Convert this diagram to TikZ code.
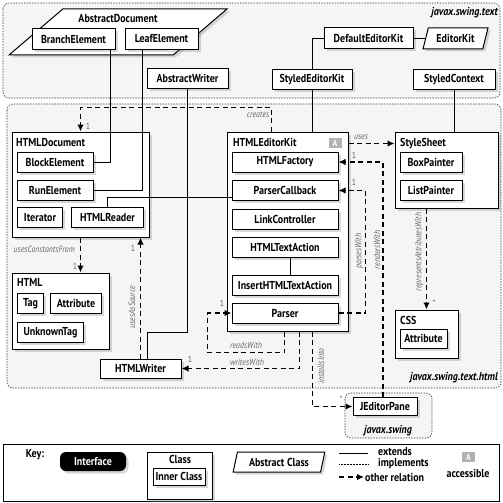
\documentclass[tikz,border=0pt]{standalone}
\usepackage{fontspec}
\setmainfont{PT Sans}[FakeStretch=0.87]
\usepackage{tikz}
\tikzset{
    cls/.style={rectangle,draw=black,fill=white,line width=1pt,drop shadow={opacity=0.3,shadow xshift=2.5pt,shadow yshift=-2.5pt},font=\bfseries,inner sep=0pt,minimum height=20pt,text centered},
    container/.style={cls},
    abstr/.style={trapezium,trapezium left angle=70,trapezium right angle=110,trapezium stretches=true,draw=black,fill=white,line width=1pt,drop shadow={opacity=0.3,shadow xshift=2.5pt,shadow yshift=-2.5pt},font=\bfseries,inner sep=0pt},
    iface/.style={rectangle,rounded corners=6pt,fill=black,text=white,font=\bfseries,inner sep=0pt,drop shadow={opacity=0.3,shadow xshift=2.5pt,shadow yshift=-2.5pt}},
    ttl/.style={anchor=north west,font=\bfseries,inner sep=0pt},
    pkg/.style={draw=black!75,fill=black!4,dash pattern=on 1.5pt off 1.2pt,line width=0.6pt,rounded corners=6pt},
    pkgname/.style={font=\bfseries\itshape,inner sep=0pt},
    ext/.style={draw=black,line width=0.8pt},
    impl/.style={draw=black,line width=0.8pt,dash pattern=on 0.7pt off 0.8pt},
    rel/.style={draw=black,line width=1.8pt,dash pattern=on 5pt off 3.5pt},
    lbl/.style={font=\itshape\fontsize{9}{10}\selectfont,text=black!60,inner sep=0.5pt},
    mult/.style={font=\fontsize{9}{10}\selectfont,text=black!60,inner sep=0.5pt},
    badge/.style={rectangle,fill=black!30,text=white,font=\bfseries\fontsize{9}{10}\selectfont,minimum width=13pt,minimum height=10pt,inner sep=0pt},
    keytext/.style={anchor=west,font=\bfseries,inner sep=0pt},
}
\usetikzlibrary{shapes.geometric,shadows,arrows.meta}
\usetikzlibrary{positioning}

\begin{document}
\fontsize{11.5}{13}\selectfont
\begin{tikzpicture}[x=1pt,y=-1pt,>={Latex[length=7pt,width=6.5pt]}]
\useasboundingbox (0,0) rectangle (503,503);
% packages
\draw[pkg] (3,3) rectangle (500,98);
\draw[pkg] (7,104) rectangle (501,388);
\draw[pkg] (345,393) rectangle (432,438);
\node[pkgname,anchor=east] (swingtext) at (498,13) {javax.swing.text};
\node[pkgname,anchor=east] (swinghtml) at (498,378) {javax.swing.text.html};
\node[pkgname] (swing) at (388,431) {javax.swing};

% javax.swing.text
\node[abstr,minimum width=218,minimum height=46] (AbstractDocument) at (118,32) {\phantom{A}};
\node[font=\bfseries,inner sep=0pt] (AbstractDocumentTtl) at (118,18) {AbstractDocument};
\node[cls,minimum width=83,minimum height=21] (BranchElement) at (73.5,39) {BranchElement};
\node[cls,minimum width=73,minimum height=21] (LeafElement) [right =9pt of BranchElement] {LeafElement};
\node[cls,minimum width=81] (AbstractWriter) at (187.5,78.5) {AbstractWriter};
\node[cls,minimum width=89,minimum height=21] (DefaultEditorKit) at (368.5,38.5) {DefaultEditorKit};
\node[abstr,trapezium left angle=66,trapezium right angle=114,minimum width=65,minimum height=21] (EditorKit) at (455.5,38.5) {EditorKit};
\node[cls,minimum width=80] (StyledEditorKit) at (312,79.5) {StyledEditorKit};
\node[cls,minimum width=82] (StyledContext) at (454,79.5) {StyledContext};

% javax.swing.text.html
\node[container,minimum width=137,minimum height=105] (HTMLDocument) at (80.5,184.5) {};
\node[ttl] (HTMLDocumentTtl) at (16,138) {HTMLDocument};
\node[cls,minimum width=76] (BlockElement) at (55,162) {BlockElement};
\node[cls,minimum width=76] (RunElement) [below =7pt of BlockElement] {RunElement};
\node[cls,minimum width=45,anchor=north west] (Iterator) at (17,207) {Iterator};
\node[cls,minimum width=72] (HTMLReader) [right =8pt of Iterator] {HTMLReader};

\node[container,minimum width=97,minimum height=76] (HTML) at (60.5,311) {};
\node[ttl] (HTMLTtl) at (17,278) {HTML};
\node[cls,minimum width=26,anchor=north west] (Tag) at (17,293) {Tag};
\node[cls,minimum width=51] (Attribute) [right =6pt of Tag] {Attribute};
\node[cls,minimum width=66,anchor=north west] (UnknownTag) at (17,322) {UnknownTag};

\node[container,minimum width=121,minimum height=199] (HTMLEditorKit) at (287.5,231.5) {};
\node[ttl] (HTMLEditorKitTtl) at (233,138) {HTMLEditorKit};
\node[badge] (HTMLEditorKitA) at (335,143) {A};
\node[cls,minimum width=106] (HTMLFactory) at (285,162) {HTMLFactory};
\node[cls,minimum width=106] (ParserCallback) [below =7.5pt of HTMLFactory] {ParserCallback};
\node[cls,minimum width=106] (LinkController) [below =7.5pt of ParserCallback] {LinkController};
\node[cls,minimum width=106] (HTMLTextAction) [below =7.5pt of LinkController] {HTMLTextAction};
\node[cls,minimum width=106] (InsertHTMLTextAction) at (285,285) {InsertHTMLTextAction};
\node[cls,minimum width=106] (Parser) [below =7pt of InsertHTMLTextAction] {Parser};

\node[container,minimum width=103,minimum height=76] (StyleSheet) at (446.5,170) {};
\node[ttl] (StyleSheetTtl) at (400,138) {StyleSheet};
\node[cls,minimum width=62] (BoxPainter) at (431,162) {BoxPainter};
\node[cls,minimum width=62] (ListPainter) [below =7pt of BoxPainter] {ListPainter};

\node[container,minimum width=63,minimum height=48] (CSS) at (426.5,334) {};
\node[ttl] (CSSTtl) at (400,316) {CSS};
\node[cls,minimum width=47,minimum height=19] (CSSAttribute) at (423.5,338.5) {Attribute};

\node[cls,minimum width=81,minimum height=19] (HTMLWriter) at (140.5,368.5) {HTMLWriter};

% javax.swing
\node[cls,minimum width=64,minimum height=18] (JEditorPane) at (385,406.5) {JEditorPane};

% extends
\draw[ext] ([xshift=-5pt]BranchElement.south east) |- (BlockElement);
\draw[ext] ([xshift=18pt]LeafElement.south west) |- (RunElement);
\draw[ext] (AbstractWriter.south) -- ++(0,243) -| ([xshift=6.5pt]HTMLWriter.north);
\draw[ext] (StyledEditorKit.north) |- (DefaultEditorKit);
\draw[ext] (DefaultEditorKit) -- (EditorKit);
\draw[ext] (StyledEditorKit.south) -- (StyledEditorKit.south |- HTMLEditorKit.north);
\draw[ext] (StyledContext.south) -- (StyledContext.south |- StyleSheet.north);
\draw[ext] (HTMLReader.north) |- ([yshift=-7pt]ParserCallback.west);
\draw[ext] ([xshift=5pt]HTMLTextAction.south) -- ([xshift=5pt]InsertHTMLTextAction.north);

% other relations
\draw[rel,->] ([xshift=45pt]HTMLEditorKit.north west) -- ++(0,-24) -| (HTMLDocument.north);
\node[lbl] (createsLbl) at (258,115) {creates};
\node[mult] (createsMult) at (88,126) {1};
\draw[rel,->] ([yshift=-12pt]HTMLEditorKit.north east) -- ([yshift=-12pt]HTMLEditorKit.north east -| StyleSheet.west);
\node[lbl] (usesLbl) at (361,137) {uses};
\draw[rel,->] ([xshift=-2pt]JEditorPane.north) |- (HTMLFactory);
\node[mult] (rendersMult) at (354,155) {1};
\node[lbl,rotate=90] (rendersLbl) at (377,250) {rendersWith};
\draw[rel,->] (Parser.east) -- ++(27,0) |- (ParserCallback);
\node[mult] (parsesMult) at (354,182) {1};
\node[lbl,rotate=90] (parsesLbl) at (359,251) {parsesWith};
\draw[rel,->] (CSS.north |- StyleSheet.south) -- (CSS.north);
\node[lbl,rotate=90] (representsLbl) at (419,252) {representsAttributesWith};
\node[mult] (representsMult) at (434,303) {*};
\draw[rel,->] ([xshift=86pt]HTMLEditorKit.south west) |- (JEditorPane);
\node[lbl,rotate=90] (installsLbl) at (321,366) {installsInto};
\node[mult] (installsMult) at (341,399) {*};
\draw[rel,->] ([xshift=58pt]HTMLEditorKit.south west) -- ++(0,21) -- ++(-77,0) |- (Parser);
\node[lbl] (readsLbl) at (246,345) {readsWith};
\node[mult] (readsMult) at (222,303) {1};
\draw[rel,->] ([xshift=73pt]HTMLEditorKit.south west) |- (HTMLWriter);
\node[lbl] (writesLbl) at (247,362) {writesWith};
\node[mult] (writesMult) at (190,359) {1};
\draw[rel,->] (HTMLWriter.north) -- (HTMLWriter.north |- HTMLDocument.south);
\node[lbl,rotate=90] (sourceLbl) at (132,307) {usesAsSource};
\node[mult] (sourceMult) at (133,248) {1};
\draw[rel,->] (HTMLDocument.south) -- (HTMLDocument.south |- HTML.north);
\node[lbl,anchor=west] (constantsLbl) at (13,249) {usesConstantsFrom};
\node[mult] (constantsMult) at (75,266) {1};

% key
\draw[line width=1pt,fill=white] (3,444) rectangle (499,501);
\node[font=\bfseries,inner sep=0pt] (KeyTtl) at (35,455) {Key:};
\node[iface,minimum width=66,minimum height=19] (Interface) at (93,461.5) {Interface};
\node[container,minimum width=65,minimum height=47] (KeyClass) at (179.5,475.5) {};
\node[font=\bfseries,inner sep=0pt] (KeyClassTtl) at (180,459) {Class};
\node[cls,minimum width=52,minimum height=17] (InnerClass) at (179,476.5) {Inner Class};
\node[abstr,minimum width=92,minimum height=20] (AbstractClass) at (279,462) {Abstract Class};
\coordinate (extA) at (339,453);
\coordinate (extB) at (368,453);
\coordinate (implA) at (339,464);
\coordinate (implB) at (368,464);
\coordinate (relA) at (339,477);
\coordinate (relB) at (364,477);
\draw[ext] (extA) -- (extB);
\draw[impl] (implA) -- (implB);
\draw[rel,->] (relA) -- (relB);
\node[keytext] (extendsKey) at (378,452) {extends};
\node[keytext] (implementsKey) at (378,464) {implements};
\node[keytext] (otherKey) at (365,477) {other relation};
\node[badge] (accessibleA) at (468.5,457) {A};
\node[font=\bfseries,inner sep=0pt] (accessibleKey) at (468,473) {accessible};
\end{tikzpicture}
\end{document}
